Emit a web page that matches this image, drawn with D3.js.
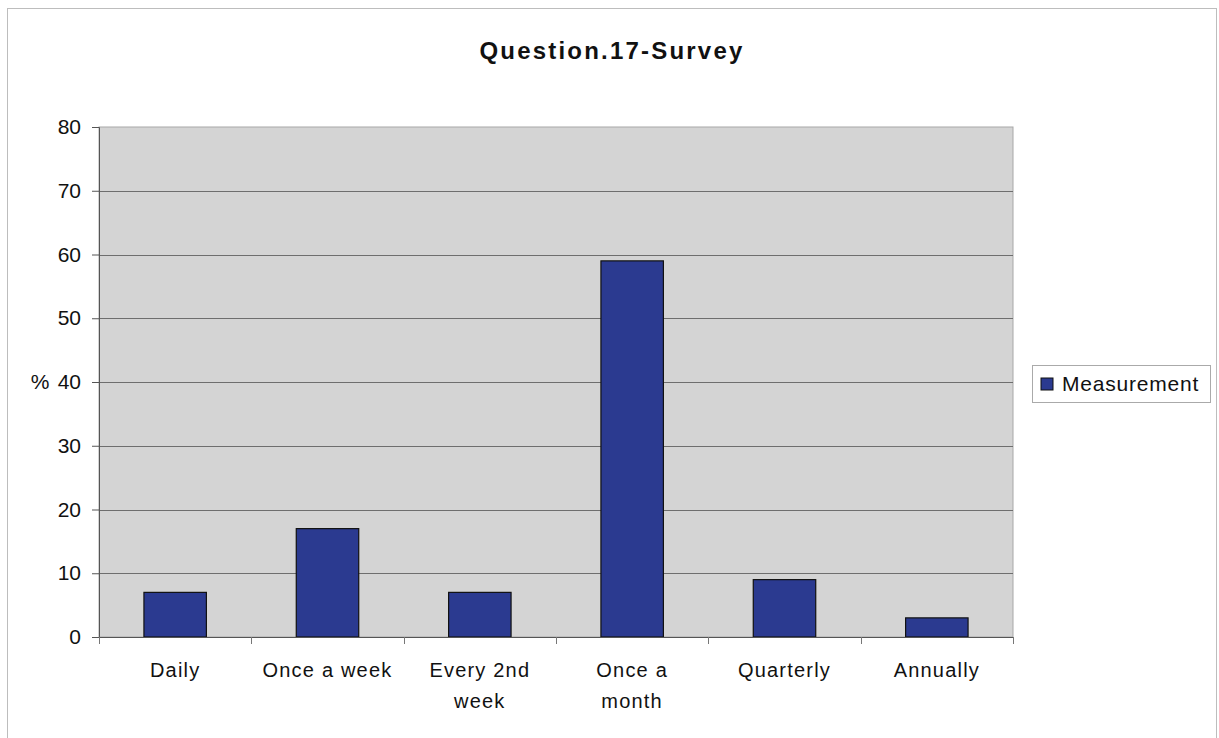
<!DOCTYPE html>
<html>
<head>
<meta charset="utf-8">
<script src="https://cdn.jsdelivr.net/npm/d3@7"></script>
<style>
  html, body { margin: 0; padding: 0; background: #fff; }
  svg { display: block; font-family: Arial, "Liberation Sans", sans-serif; }
</style>
</head>
<body>
<svg id="chart" width="1219" height="738"></svg>
<script>
const categories = ["Daily", "Once a week", "Every 2nd week", "Once a month", "Quarterly", "Annually"];
const categoryLines = [["Daily"], ["Once a week"], ["Every 2nd", "week"], ["Once a", "month"], ["Quarterly"], ["Annually"]];
const values = [7, 17, 7, 59, 9, 3];
const yTicks = [0, 10, 20, 30, 40, 50, 60, 70, 80];
const seriesName = "Measurement";
const titleText = "Question.17-Survey";

const svg = d3.select("#chart");

// outer chart border
svg.append("rect").attr("x", 7.5).attr("y", 8.5).attr("width", 1209).attr("height", 740)
  .attr("fill", "#fff").attr("stroke", "#bdbdbd").attr("stroke-width", 1);

const plot = { left: 99, right: 1013, top: 127, bottom: 637 };

const x = d3.scaleBand().domain(categories).range([plot.left, plot.right]).padding(0);
const y = d3.scaleLinear().domain([0, 80]).range([plot.bottom, plot.top]);

// plot background
svg.append("rect")
  .attr("x", plot.left).attr("y", plot.top)
  .attr("width", plot.right - plot.left).attr("height", plot.bottom - plot.top)
  .attr("fill", "#d4d4d4").attr("stroke", "#a8a8a8").attr("stroke-width", 1);

// gridlines
svg.append("g").selectAll("line").data(yTicks.filter(d => d > 0 && d < 80)).join("line")
  .attr("x1", plot.left).attr("x2", plot.right)
  .attr("y1", d => Math.round(y(d)) + 0.5).attr("y2", d => Math.round(y(d)) + 0.5)
  .attr("stroke", "#6e6e6e").attr("stroke-width", 1);

// bars
const barW = x.bandwidth() * 0.41;
svg.append("g").selectAll("rect").data(values).join("rect")
  .attr("x", (d, i) => x(categories[i]) + (x.bandwidth() - barW) / 2)
  .attr("y", d => y(d))
  .attr("width", barW)
  .attr("height", d => y(0) - y(d))
  .attr("fill", "#2b3a90")
  .attr("stroke", "#111").attr("stroke-width", 1.2);

// y axis
const yAxis = d3.axisLeft(y).tickValues(yTicks).tickSize(7).tickPadding(11);
const gy = svg.append("g").attr("transform", `translate(${plot.left},0)`).call(yAxis);
gy.select(".domain").attr("stroke", "#555");
gy.selectAll(".tick line").attr("stroke", "#555");
gy.selectAll(".tick text").attr("font-size", 21).attr("fill", "#111")
  .attr("font-family", "Arial, 'Liberation Sans', sans-serif");

// % label
svg.append("text").attr("x", 40).attr("y", y(40)).attr("dy", "0.35em")
  .attr("text-anchor", "middle").attr("font-size", 21).attr("fill", "#111").text("%");

// x axis (ticks at category boundaries)
svg.append("line").attr("x1", plot.left).attr("x2", plot.right)
  .attr("y1", plot.bottom + 0.5).attr("y2", plot.bottom + 0.5).attr("stroke", "#555");
const bounds = categories.map(c => x(c)).concat([plot.right]);
svg.append("g").selectAll("line").data(bounds).join("line")
  .attr("x1", d => Math.round(d) + 0.5).attr("x2", d => Math.round(d) + 0.5)
  .attr("y1", plot.bottom).attr("y2", plot.bottom + 7).attr("stroke", "#777");

// x labels
const xl = svg.append("g").selectAll("text").data(categoryLines).join("text")
  .attr("y", 677)
  .attr("text-anchor", "middle")
  .attr("font-size", 20)
  .attr("letter-spacing", 1.2)
  .attr("fill", "#111");
xl.each(function(lines, i) {
  const t = d3.select(this);
  const cx = x(categories[i]) + x.bandwidth() / 2;
  lines.forEach((ln, k) => {
    t.append("tspan").attr("x", cx).attr("dy", k === 0 ? 0 : 31).text(ln);
  });
});

// title
svg.append("text").attr("x", 612).attr("y", 59).attr("text-anchor", "middle")
  .attr("font-size", 24).attr("font-weight", "bold").attr("letter-spacing", 2.2)
  .attr("fill", "#111").text(titleText);

// legend
const lg = svg.append("g");
lg.append("rect").attr("x", 1032.5).attr("y", 365.5).attr("width", 178).attr("height", 37)
  .attr("fill", "#fff").attr("stroke", "#aaa");
lg.append("rect").attr("x", 1041).attr("y", 378).attr("width", 12).attr("height", 12)
  .attr("fill", "#2b3a90").attr("stroke", "#111");
lg.append("text").attr("x", 1062).attr("y", 391).attr("font-size", 21).attr("letter-spacing", 0.8)
  .attr("fill", "#111").text(seriesName);
</script>
</body>
</html>
